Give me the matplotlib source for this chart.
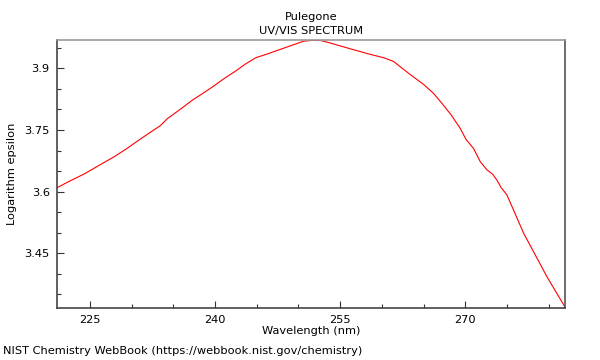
import matplotlib
matplotlib.use("Agg")
import matplotlib.pyplot as plt
from matplotlib.ticker import MultipleLocator

# spectrum
wavelength = [221.0, 222.5, 224.3, 226.0, 227.9, 229.5, 230.9, 232.2, 233.4, 234.3,
              235.8, 237.3, 238.6, 239.7, 241.0, 242.5, 243.6, 244.9, 246.4, 247.8,
              249.2, 250.6, 251.6, 252.6, 253.4, 254.6, 255.8, 257.2, 258.6, 260.2,
              261.4, 262.2, 263.4, 264.2, 265.0, 266.2, 267.2, 268.3, 269.4, 270.1,
              271.0, 271.8, 272.6, 273.3, 273.8, 274.3, 275.0, 277.0, 279.8, 282.0]
log_eps = [3.609, 3.625, 3.643, 3.663, 3.685, 3.706, 3.726, 3.744, 3.760, 3.778,
           3.800, 3.823, 3.840, 3.855, 3.874, 3.894, 3.910, 3.926, 3.936, 3.946,
           3.956, 3.966, 3.968, 3.968, 3.964, 3.957, 3.950, 3.942, 3.934, 3.926,
           3.917, 3.904, 3.885, 3.873, 3.861, 3.839, 3.815, 3.787, 3.754, 3.727,
           3.705, 3.673, 3.653, 3.642, 3.628, 3.610, 3.592, 3.499, 3.393, 3.318]

title = "Pulegone\nUV/VIS SPECTRUM"
credit = "NIST Chemistry WebBook (https://webbook.nist.gov/chemistry)"
fs = 8.2

fig = plt.figure(figsize=(6, 3.6), dpi=100)
ax = fig.add_axes([0.0945, 0.1436, 0.8476, 0.7453])

ax.plot(wavelength, log_eps, color="red", lw=0.8)

ax.set_xlim(221.0, 282.0)
ax.set_ylim(3.316, 3.969)
ax.xaxis.set_major_locator(MultipleLocator(15))
ax.xaxis.set_minor_locator(MultipleLocator(5))
ax.yaxis.set_minor_locator(MultipleLocator(0.05))
ax.set_yticks([3.45, 3.6, 3.75, 3.9])
ax.set_yticklabels(["3.45", "3.6", "3.75", "3.9"])
ax.tick_params(which="major", direction="in", length=5, width=0.8, color="#333333",
               labelsize=fs, pad=5)
ax.tick_params(which="minor", direction="in", length=3, width=0.8, color="#333333")

ax.spines["top"].set_color("#999999")
ax.spines["right"].set_color("#555555")
ax.spines["left"].set_color("#444444")
ax.spines["bottom"].set_color("#444444")
for s in ax.spines.values():
    s.set_linewidth(1.2)

ax.set_xlabel("Wavelength (nm)", fontsize=fs)
ax.xaxis.set_label_coords(0.5, -0.065)
ax.set_ylabel("Logarithm epsilon", fontsize=fs)
ax.yaxis.set_label_coords(-0.078, 0.5)
ax.set_title(title, fontsize=fs, linespacing=1.6, pad=4)
fig.text(0.005, 0.01, credit, fontsize=fs, ha="left", va="bottom")

fig.savefig("out.png", dpi=100)
